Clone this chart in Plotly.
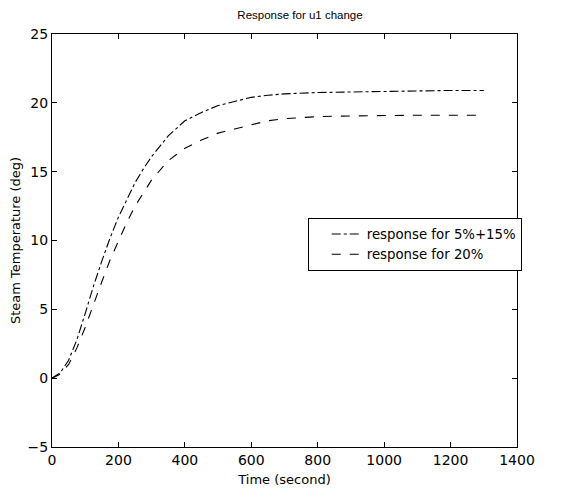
import plotly.graph_objects as go

time_s = [0, 25, 50, 75, 100, 125, 150, 175, 200, 225, 250, 275, 300, 350, 400,
          450, 500, 550, 600, 650, 700, 800, 900, 1000, 1100, 1200, 1300]
resp_5_15 = [0, 0.4, 1.3, 2.8, 4.7, 6.7, 8.5, 10.2, 11.7, 13.0, 14.2, 15.2, 16.1, 17.6, 18.7,
             19.3, 19.8, 20.1, 20.4, 20.55, 20.65, 20.75, 20.8, 20.85, 20.85, 20.9, 20.9]
resp_20 = [0, 0.3, 1.0, 2.2, 3.7, 5.4, 7.0, 8.6, 10.0, 11.3, 12.5, 13.5, 14.4, 15.8, 16.7,
           17.3, 17.8, 18.1, 18.4, 18.7, 18.85, 19.0, 19.05, 19.1, 19.1, 19.1, 19.1]
series_names = ["response for 5%+15%", "response for 20%"]
x_ticks = [0, 200, 400, 600, 800, 1000, 1200, 1400]
y_ticks = [-5, 0, 5, 10, 15, 20, 25]

font = "DejaVu Sans, Arial, sans-serif"
title_font = "Liberation Sans, Arial, sans-serif"

fig = go.Figure()
fig.add_trace(go.Scatter(x=time_s, y=resp_5_15, mode="lines", name=series_names[0],
                         line=dict(color="black", width=1.1, dash="dashdot")))
fig.add_trace(go.Scatter(x=time_s, y=resp_20, mode="lines", name=series_names[1],
                         line=dict(color="black", width=1.1, dash="dash")))

axis_common = dict(showline=True, linecolor="black", linewidth=1, mirror="ticks",
                   ticks="inside", ticklen=5, tickcolor="black", showgrid=False,
                   zeroline=False, automargin=False,
                   tickfont=dict(family=font, size=14, color="black"))

fig.update_layout(
    width=584, height=494,
    margin=dict(l=44, r=75, t=26, b=55),
    paper_bgcolor="white", plot_bgcolor="white",
    title=dict(text="Response for u1 change", x=0.5, xanchor="center", y=0.985,
               yanchor="middle", font=dict(family=title_font, size=11.5, color="black")),
    xaxis=dict(range=[0, 1400], tickvals=x_ticks,
               title=dict(text="Time (second)", standoff=8,
                          font=dict(family=font, size=13, color="black")),
               **axis_common),
    yaxis=dict(range=[-5, 25], tickvals=y_ticks,
               title=dict(text="Steam Temperature (deg)", standoff=8,
                          font=dict(family=font, size=13, color="black")),
               **axis_common),
    legend=dict(x=0.55, y=0.555, xanchor="left", yanchor="top",
                bordercolor="black", borderwidth=1, bgcolor="white",
                font=dict(family=font, size=13.3, color="black"),
                indentation=18, tracegroupgap=0),
    showlegend=True,
)

fig.write_html("out.html")
